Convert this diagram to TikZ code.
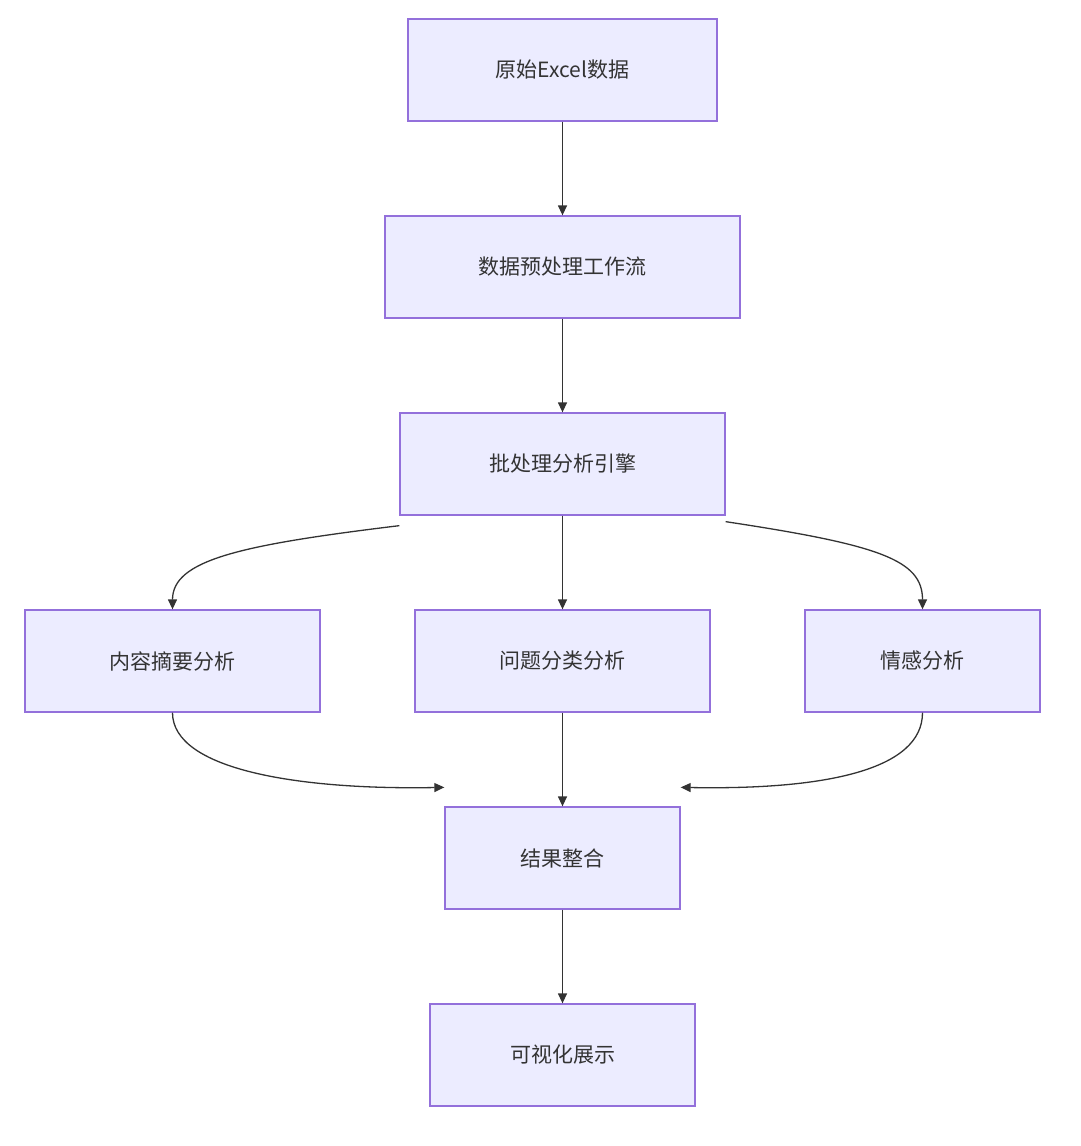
\documentclass[tikz,border=0pt]{standalone}
\usepackage{fontspec}
\setmainfont{Noto Sans CJK SC}
\usetikzlibrary{arrows.meta}
\definecolor{bx}{HTML}{ECECFF}
\definecolor{bd}{HTML}{9370DB}
\definecolor{tx}{HTML}{333333}
\begin{document}
\begin{tikzpicture}[x=1pt,y=-1pt,
 box/.style={draw=bd,fill=bx,line width=1.3pt,minimum height=102pt,inner sep=0pt,text=tx,font=\fontsize{21}{25}\selectfont},
 arr/.style={draw=tx,line width=1.3pt,-{Triangle[length=10pt,width=9pt]}}]
\useasboundingbox (0,0) rectangle (1080,1146);
\node[box,minimum width=309pt] (A) at (562.5,70) {原始Excel数据};
\node[box,minimum width=355pt] (B) at (562.5,267) {数据预处理工作流};
\node[box,minimum width=325pt] (C) at (562.5,464) {批处理分析引擎};
\node[box,minimum width=295pt] (D) at (172.5,661) {内容摘要分析};
\node[box,minimum width=295pt] (E) at (562.5,661) {问题分类分析};
\node[box,minimum width=235pt] (F) at (922.5,661) {情感分析};
\node[box,minimum width=235pt] (G) at (562.5,858) {结果整合};
\node[box,minimum width=265pt] (H) at (562.5,1055) {可视化展示};
\draw[arr] (A) -- (B);
\draw[arr] (B) -- (C);
\draw[arr] (C) -- (E);
\draw[arr] (E) -- (G);
\draw[arr] (G) -- (H);
\draw[arr] ([yshift=-10pt]C.south west) .. controls (240,545) and (172.5,560) .. (D.north);
\draw[arr] ([yshift=-6pt]C.south east) .. controls (880,545) and (922.5,560) .. (F.north);
\draw[arr] (D.south) .. controls (172.5,770) and (300,790) .. ([yshift=19pt]G.north west);
\draw[arr] (F.south) .. controls (922.5,770) and (825,790) .. ([yshift=19pt]G.north east);
\end{tikzpicture}
\end{document}
